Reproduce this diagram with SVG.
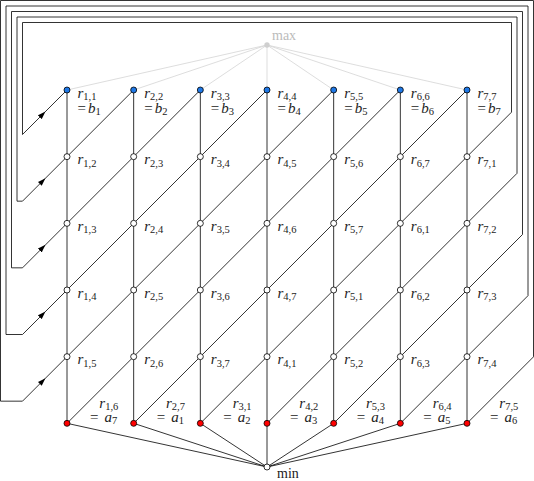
<svg xmlns="http://www.w3.org/2000/svg" width="534" height="481" viewBox="0 0 534 481">
<defs>
<style>
.ln{fill:none;stroke:#000;stroke-width:0.8}
.mx{fill:none;stroke:#d4d4d4;stroke-width:0.8}
.w{fill:#fff;stroke:#000;stroke-width:0.8}
.b{fill:#1f78e6;stroke:#000;stroke-width:0.8}
.r{fill:#f00;stroke:#000;stroke-width:0.8}
text{font-family:"Liberation Serif","DejaVu Serif",serif;font-size:15px;fill:#222}
.i{font-style:italic}
.s{font-size:10.5px}
</style>
<marker id="arr" viewBox="0 0 8 6" markerWidth="8" markerHeight="6" refX="7" refY="3" orient="auto" markerUnits="userSpaceOnUse">
<path d="M0,0.3 L8,3 L0,5.7 Z" fill="#000"/>
</marker>
</defs>
<g id="connectors">
<path class="mx" d="M267,45 L67,90 M267,45 L133.67,90 M267,45 L200.33,90 M267,45 L267,90 M267,45 L333.67,90 M267,45 L400.33,90 M267,45 L467,90"/>
<path class="ln" d="M67,90 V423.33 M133.67,90 V423.33 M200.33,90 V423.33 M267,90 V423.33 M333.67,90 V423.33 M400.33,90 V423.33 M467,90 V423.33"/>
<path class="ln" d="M67,423.33 L267,467 M133.67,423.33 L267,467 M200.33,423.33 L267,467 M267,423.33 L267,467 M333.67,423.33 L267,467 M400.33,423.33 L267,467 M467,423.33 L267,467"/>
<path class="ln" d="M67,156.67 L133.67,90 M67,223.33 L200.33,90 M67,290 L267,90 M67,356.67 L333.67,90 M67,423.33 L400.33,90 M133.67,423.33 L467,90"/>
<path class="ln" d="M200.33,423.33 L511.5,112.17 V22.5 H22.5 V134.5"/>
<path class="ln" d="M22.5,134.5 L44.75,112.25 L67,90" marker-mid="url(#arr)"/>
<path class="ln" d="M267,423.33 L517,173.33 V17 H17 V201.17 H22.5"/>
<path class="ln" d="M22.5,201.17 L44.75,178.92 L67,156.67" marker-mid="url(#arr)"/>
<path class="ln" d="M333.67,423.33 L522.5,234.5 V11.5 H11.5 V267.83 H22.5"/>
<path class="ln" d="M22.5,267.83 L44.75,245.58 L67,223.33" marker-mid="url(#arr)"/>
<path class="ln" d="M400.33,423.33 L528,295.67 V6 H6 V334.5 H22.5"/>
<path class="ln" d="M22.5,334.5 L44.75,312.25 L67,290" marker-mid="url(#arr)"/>
<path class="ln" d="M467,423.33 L533.5,356.83 V0.5 H0.5 V401.17 H22.5"/>
<path class="ln" d="M22.5,401.17 L44.75,378.92 L67,356.67" marker-mid="url(#arr)"/>
</g>
<g id="max"><circle cx="267" cy="45" r="2.7" fill="#cfcfcf"/><text x="272" y="40" style="fill:#bbb;font-size:14px">max</text></g>
<g id="min"><circle class="w" cx="267" cy="467" r="3"/><text x="277" y="478.3" style="font-size:14px">min</text></g>
<g id="n-1-1"><circle class="b" cx="67" cy="90" r="3"/><text x="77.5" y="97.5"><tspan class="i">r</tspan><tspan class="s" dy="2.5">1,1</tspan><tspan x="77.5" dy="12.5">=</tspan><tspan class="i" x="88">b</tspan><tspan class="s" dy="2.5">1</tspan></text></g>
<g id="n-2-2"><circle class="b" cx="133.67" cy="90" r="3"/><text x="144.17" y="97.5"><tspan class="i">r</tspan><tspan class="s" dy="2.5">2,2</tspan><tspan x="144.17" dy="12.5">=</tspan><tspan class="i" x="154.67">b</tspan><tspan class="s" dy="2.5">2</tspan></text></g>
<g id="n-3-3"><circle class="b" cx="200.33" cy="90" r="3"/><text x="210.83" y="97.5"><tspan class="i">r</tspan><tspan class="s" dy="2.5">3,3</tspan><tspan x="210.83" dy="12.5">=</tspan><tspan class="i" x="221.33">b</tspan><tspan class="s" dy="2.5">3</tspan></text></g>
<g id="n-4-4"><circle class="b" cx="267" cy="90" r="3"/><text x="277.5" y="97.5"><tspan class="i">r</tspan><tspan class="s" dy="2.5">4,4</tspan><tspan x="277.5" dy="12.5">=</tspan><tspan class="i" x="288">b</tspan><tspan class="s" dy="2.5">4</tspan></text></g>
<g id="n-5-5"><circle class="b" cx="333.67" cy="90" r="3"/><text x="344.17" y="97.5"><tspan class="i">r</tspan><tspan class="s" dy="2.5">5,5</tspan><tspan x="344.17" dy="12.5">=</tspan><tspan class="i" x="354.67">b</tspan><tspan class="s" dy="2.5">5</tspan></text></g>
<g id="n-6-6"><circle class="b" cx="400.33" cy="90" r="3"/><text x="410.83" y="97.5"><tspan class="i">r</tspan><tspan class="s" dy="2.5">6,6</tspan><tspan x="410.83" dy="12.5">=</tspan><tspan class="i" x="421.33">b</tspan><tspan class="s" dy="2.5">6</tspan></text></g>
<g id="n-7-7"><circle class="b" cx="467" cy="90" r="3"/><text x="477.5" y="97.5"><tspan class="i">r</tspan><tspan class="s" dy="2.5">7,7</tspan><tspan x="477.5" dy="12.5">=</tspan><tspan class="i" x="488">b</tspan><tspan class="s" dy="2.5">7</tspan></text></g>
<g id="n-1-2"><circle class="w" cx="67" cy="156.67" r="3"/><text x="77.5" y="164.17"><tspan class="i">r</tspan><tspan class="s" dy="2.5">1,2</tspan></text></g>
<g id="n-2-3"><circle class="w" cx="133.67" cy="156.67" r="3"/><text x="144.17" y="164.17"><tspan class="i">r</tspan><tspan class="s" dy="2.5">2,3</tspan></text></g>
<g id="n-3-4"><circle class="w" cx="200.33" cy="156.67" r="3"/><text x="210.83" y="164.17"><tspan class="i">r</tspan><tspan class="s" dy="2.5">3,4</tspan></text></g>
<g id="n-4-5"><circle class="w" cx="267" cy="156.67" r="3"/><text x="277.5" y="164.17"><tspan class="i">r</tspan><tspan class="s" dy="2.5">4,5</tspan></text></g>
<g id="n-5-6"><circle class="w" cx="333.67" cy="156.67" r="3"/><text x="344.17" y="164.17"><tspan class="i">r</tspan><tspan class="s" dy="2.5">5,6</tspan></text></g>
<g id="n-6-7"><circle class="w" cx="400.33" cy="156.67" r="3"/><text x="410.83" y="164.17"><tspan class="i">r</tspan><tspan class="s" dy="2.5">6,7</tspan></text></g>
<g id="n-7-1"><circle class="w" cx="467" cy="156.67" r="3"/><text x="477.5" y="164.17"><tspan class="i">r</tspan><tspan class="s" dy="2.5">7,1</tspan></text></g>
<g id="n-1-3"><circle class="w" cx="67" cy="223.33" r="3"/><text x="77.5" y="230.83"><tspan class="i">r</tspan><tspan class="s" dy="2.5">1,3</tspan></text></g>
<g id="n-2-4"><circle class="w" cx="133.67" cy="223.33" r="3"/><text x="144.17" y="230.83"><tspan class="i">r</tspan><tspan class="s" dy="2.5">2,4</tspan></text></g>
<g id="n-3-5"><circle class="w" cx="200.33" cy="223.33" r="3"/><text x="210.83" y="230.83"><tspan class="i">r</tspan><tspan class="s" dy="2.5">3,5</tspan></text></g>
<g id="n-4-6"><circle class="w" cx="267" cy="223.33" r="3"/><text x="277.5" y="230.83"><tspan class="i">r</tspan><tspan class="s" dy="2.5">4,6</tspan></text></g>
<g id="n-5-7"><circle class="w" cx="333.67" cy="223.33" r="3"/><text x="344.17" y="230.83"><tspan class="i">r</tspan><tspan class="s" dy="2.5">5,7</tspan></text></g>
<g id="n-6-1"><circle class="w" cx="400.33" cy="223.33" r="3"/><text x="410.83" y="230.83"><tspan class="i">r</tspan><tspan class="s" dy="2.5">6,1</tspan></text></g>
<g id="n-7-2"><circle class="w" cx="467" cy="223.33" r="3"/><text x="477.5" y="230.83"><tspan class="i">r</tspan><tspan class="s" dy="2.5">7,2</tspan></text></g>
<g id="n-1-4"><circle class="w" cx="67" cy="290" r="3"/><text x="77.5" y="297.5"><tspan class="i">r</tspan><tspan class="s" dy="2.5">1,4</tspan></text></g>
<g id="n-2-5"><circle class="w" cx="133.67" cy="290" r="3"/><text x="144.17" y="297.5"><tspan class="i">r</tspan><tspan class="s" dy="2.5">2,5</tspan></text></g>
<g id="n-3-6"><circle class="w" cx="200.33" cy="290" r="3"/><text x="210.83" y="297.5"><tspan class="i">r</tspan><tspan class="s" dy="2.5">3,6</tspan></text></g>
<g id="n-4-7"><circle class="w" cx="267" cy="290" r="3"/><text x="277.5" y="297.5"><tspan class="i">r</tspan><tspan class="s" dy="2.5">4,7</tspan></text></g>
<g id="n-5-1"><circle class="w" cx="333.67" cy="290" r="3"/><text x="344.17" y="297.5"><tspan class="i">r</tspan><tspan class="s" dy="2.5">5,1</tspan></text></g>
<g id="n-6-2"><circle class="w" cx="400.33" cy="290" r="3"/><text x="410.83" y="297.5"><tspan class="i">r</tspan><tspan class="s" dy="2.5">6,2</tspan></text></g>
<g id="n-7-3"><circle class="w" cx="467" cy="290" r="3"/><text x="477.5" y="297.5"><tspan class="i">r</tspan><tspan class="s" dy="2.5">7,3</tspan></text></g>
<g id="n-1-5"><circle class="w" cx="67" cy="356.67" r="3"/><text x="77.5" y="364.17"><tspan class="i">r</tspan><tspan class="s" dy="2.5">1,5</tspan></text></g>
<g id="n-2-6"><circle class="w" cx="133.67" cy="356.67" r="3"/><text x="144.17" y="364.17"><tspan class="i">r</tspan><tspan class="s" dy="2.5">2,6</tspan></text></g>
<g id="n-3-7"><circle class="w" cx="200.33" cy="356.67" r="3"/><text x="210.83" y="364.17"><tspan class="i">r</tspan><tspan class="s" dy="2.5">3,7</tspan></text></g>
<g id="n-4-1"><circle class="w" cx="267" cy="356.67" r="3"/><text x="277.5" y="364.17"><tspan class="i">r</tspan><tspan class="s" dy="2.5">4,1</tspan></text></g>
<g id="n-5-2"><circle class="w" cx="333.67" cy="356.67" r="3"/><text x="344.17" y="364.17"><tspan class="i">r</tspan><tspan class="s" dy="2.5">5,2</tspan></text></g>
<g id="n-6-3"><circle class="w" cx="400.33" cy="356.67" r="3"/><text x="410.83" y="364.17"><tspan class="i">r</tspan><tspan class="s" dy="2.5">6,3</tspan></text></g>
<g id="n-7-4"><circle class="w" cx="467" cy="356.67" r="3"/><text x="477.5" y="364.17"><tspan class="i">r</tspan><tspan class="s" dy="2.5">7,4</tspan></text></g>
<g id="n-1-6"><circle class="r" cx="67" cy="423.33" r="3"/><text x="99.3" y="407.8"><tspan class="i">r</tspan><tspan class="s" dy="2.5">1,6</tspan><tspan x="90" dy="11.5">=</tspan><tspan class="i" x="104.5">a</tspan><tspan class="s" dy="2.5">7</tspan></text></g>
<g id="n-2-7"><circle class="r" cx="133.67" cy="423.33" r="3"/><text x="165.97" y="407.8"><tspan class="i">r</tspan><tspan class="s" dy="2.5">2,7</tspan><tspan x="156.67" dy="11.5">=</tspan><tspan class="i" x="171.17">a</tspan><tspan class="s" dy="2.5">1</tspan></text></g>
<g id="n-3-1"><circle class="r" cx="200.33" cy="423.33" r="3"/><text x="232.63" y="407.8"><tspan class="i">r</tspan><tspan class="s" dy="2.5">3,1</tspan><tspan x="223.33" dy="11.5">=</tspan><tspan class="i" x="237.83">a</tspan><tspan class="s" dy="2.5">2</tspan></text></g>
<g id="n-4-2"><circle class="r" cx="267" cy="423.33" r="3"/><text x="299.3" y="407.8"><tspan class="i">r</tspan><tspan class="s" dy="2.5">4,2</tspan><tspan x="290" dy="11.5">=</tspan><tspan class="i" x="304.5">a</tspan><tspan class="s" dy="2.5">3</tspan></text></g>
<g id="n-5-3"><circle class="r" cx="333.67" cy="423.33" r="3"/><text x="365.97" y="407.8"><tspan class="i">r</tspan><tspan class="s" dy="2.5">5,3</tspan><tspan x="356.67" dy="11.5">=</tspan><tspan class="i" x="371.17">a</tspan><tspan class="s" dy="2.5">4</tspan></text></g>
<g id="n-6-4"><circle class="r" cx="400.33" cy="423.33" r="3"/><text x="432.63" y="407.8"><tspan class="i">r</tspan><tspan class="s" dy="2.5">6,4</tspan><tspan x="423.33" dy="11.5">=</tspan><tspan class="i" x="437.83">a</tspan><tspan class="s" dy="2.5">5</tspan></text></g>
<g id="n-7-5"><circle class="r" cx="467" cy="423.33" r="3"/><text x="499.3" y="407.8"><tspan class="i">r</tspan><tspan class="s" dy="2.5">7,5</tspan><tspan x="490" dy="11.5">=</tspan><tspan class="i" x="504.5">a</tspan><tspan class="s" dy="2.5">6</tspan></text></g>
</svg>
